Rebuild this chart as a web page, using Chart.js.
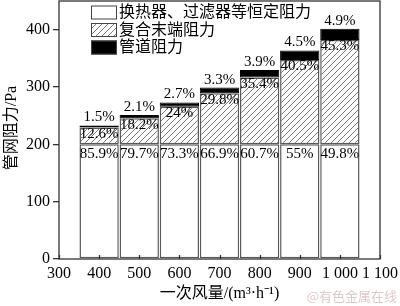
<!DOCTYPE html>
<html><head><meta charset="utf-8">
<script src="https://cdn.jsdelivr.net/npm/chart.js@4"></script>
<style>html,body{margin:0;padding:0;background:#fff}#wrap{width:400px;height:306px}</style>
</head><body><div id="wrap"><canvas id="c" width="400" height="306"></canvas></div>
<script>
const flows = [400, 500, 600, 700, 800, 900, 1000];
const constRes = [200, 200, 200, 200, 200, 200, 200];
const terminalRes = [29.3, 45.7, 65.5, 89.1, 116.6, 147.3, 181.9];
const pipeRes = [3.5, 5.3, 7.4, 9.9, 12.9, 16.4, 19.7];
const constPct = ['85.9%', '79.7%', '73.3%', '66.9%', '60.7%', '55%', '49.8%'];
const termPct = ['12.6%', '18.2%', '24%', '29.8%', '35.4%', '40.5%', '45.3%'];
const pipePct = ['1.5%', '2.1%', '2.7%', '3.3%', '3.9%', '4.5%', '4.9%'];
const xTickValues = [300, 400, 500, 600, 700, 800, 900, 1000, 1100];
const xTickLabels = ['300', '400', '500', '600', '700', '800', '900', '1 000', '1 100'];
const yTickValues = [0, 100, 200, 300, 400];
const seriesNames = ['换热器、过滤器等恒定阻力', '复合末端阻力', '管道阻力'];
const xTitle = '一次风量/(m³·h⁻¹)';
const yTitle = '管网阻力/Pa';
const watermark = '@有色金属在线';

const SERIF = '"Liberation Serif", "Noto Sans CJK SC", serif';

const pc = document.createElement('canvas');
pc.width = 6; pc.height = 6;
const g = pc.getContext('2d');
g.fillStyle = '#fff'; g.fillRect(0, 0, 6, 6);
g.strokeStyle = '#6a6a6a'; g.lineWidth = 0.9;
g.beginPath();
g.moveTo(0, 6); g.lineTo(6, 0);
g.moveTo(-1, 1); g.lineTo(1, -1);
g.moveTo(5, 7); g.lineTo(7, 5);
g.stroke();
const hatch = document.getElementById('c').getContext('2d').createPattern(pc, 'repeat');

function pts(arr) { return flows.map((f, i) => ({x: f, y: arr[i]})); }

const decor = {
  id: 'decor',
  afterDatasetsDraw(chart) {
    const ctx = chart.ctx;
    const ca = chart.chartArea;
    const xs = chart.scales.x;
    ctx.save();
    // frame
    ctx.strokeStyle = '#333'; ctx.lineWidth = 1.3;
    ctx.strokeRect(ca.left, ca.top, ca.right - ca.left, ca.bottom - ca.top);
    // inside x ticks
    ctx.beginPath();
    xTickValues.forEach(v => {
      const px = Math.round(xs.getPixelForValue(v)) + 0.5;
      ctx.moveTo(px, ca.bottom); ctx.lineTo(px, ca.bottom - 4);
    });
    ctx.stroke();
    // labels
    ctx.fillStyle = '#000';
    ctx.font = '15px ' + SERIF;
    ctx.textAlign = 'center'; ctx.textBaseline = 'middle';
    const m0 = chart.getDatasetMeta(0), m1 = chart.getDatasetMeta(1), m2 = chart.getDatasetMeta(2);
    flows.forEach((f, i) => {
      const cx = xs.getPixelForValue(f);
      ctx.fillText(constPct[i], cx, m0.data[i].y + 9.5);
      ctx.fillText(termPct[i], cx, m1.data[i].y + 6.5);
      ctx.fillText(pipePct[i], cx, m2.data[i].y - 8);
    });
    // legend
    const styles = [{fill: '#fff'}, {fill: hatch}, {fill: '#000'}];
    ctx.font = '16px ' + SERIF;
    ctx.textAlign = 'left';
    const rowY = [12.5, 30, 47.5];
    styles.forEach((s, k) => {
      ctx.fillStyle = s.fill;
      ctx.fillRect(91, rowY[k] - 7, 26, 14);
      ctx.strokeStyle = '#444'; ctx.lineWidth = 1;
      ctx.strokeRect(91.5, rowY[k] - 6.5, 25, 13);
      ctx.fillStyle = '#000';
      ctx.fillText(seriesNames[k], 119, rowY[k] + 0.5);
    });
    // axis titles
    ctx.textAlign = 'center';
    ctx.fillText(xTitle, (ca.left + ca.right) / 2, 294);
    ctx.save();
    ctx.translate(12, 128);
    ctx.rotate(-Math.PI / 2);
    ctx.fillText(yTitle, 0, 0);
    ctx.restore();
    // watermark
    ctx.font = '13px "Noto Sans CJK SC", sans-serif';
    ctx.fillStyle = '#dcc9c9';
    ctx.textAlign = 'right';
    ctx.fillText(watermark, 397, 296);
    ctx.restore();
  }
};

new Chart(document.getElementById('c'), {
  type: 'bar',
  data: {
    datasets: [
      {label: seriesNames[0], data: pts(constRes), backgroundColor: '#fff', borderColor: '#5a5a5a', borderWidth: 1.5, borderSkipped: false},
      {label: seriesNames[1], data: pts(terminalRes), backgroundColor: hatch, borderColor: '#5a5a5a', borderWidth: 1.5, borderSkipped: false},
      {label: seriesNames[2], data: pts(pipeRes), backgroundColor: '#000', borderColor: '#000', borderWidth: 1, borderSkipped: false}
    ]
  },
  options: {
    responsive: false,
    animation: false,
    events: [],
    barPercentage: 0.98,
    categoryPercentage: 1,
    layout: {padding: {top: 1, right: 20, left: 0, bottom: 0}},
    plugins: {legend: {display: false}, tooltip: {enabled: false}, title: {display: false}},
    scales: {
      x: {
        type: 'linear', stacked: true, min: 300, max: 1100, offset: false,
        afterBuildTicks(s) { s.ticks = xTickValues.map(v => ({value: v})); },
        afterFit(s) { s.height = 47; s.paddingLeft = 0; s.paddingRight = 0; },
        grid: {display: false, drawTicks: false, offset: false},
        border: {display: false},
        ticks: {
          padding: 5, color: '#000', maxRotation: 0, autoSkip: false,
          font: {family: SERIF, size: 16},
          callback(v) { const i = xTickValues.indexOf(v); return i >= 0 ? xTickLabels[i] : ''; }
        }
      },
      y: {
        stacked: true, min: 0, max: 450,
        afterBuildTicks(s) { s.ticks = yTickValues.map(v => ({value: v})); },
        afterFit(s) { s.width = 59; s.paddingTop = 0; s.paddingBottom = 0; },
        grid: {drawOnChartArea: false, drawTicks: true, tickLength: 6, color: '#333', lineWidth: 1.3},
        border: {display: false},
        ticks: {padding: 3, color: '#000', font: {family: SERIF, size: 16}}
      }
    }
  },
  plugins: [decor]
});
</script>
</body></html>
